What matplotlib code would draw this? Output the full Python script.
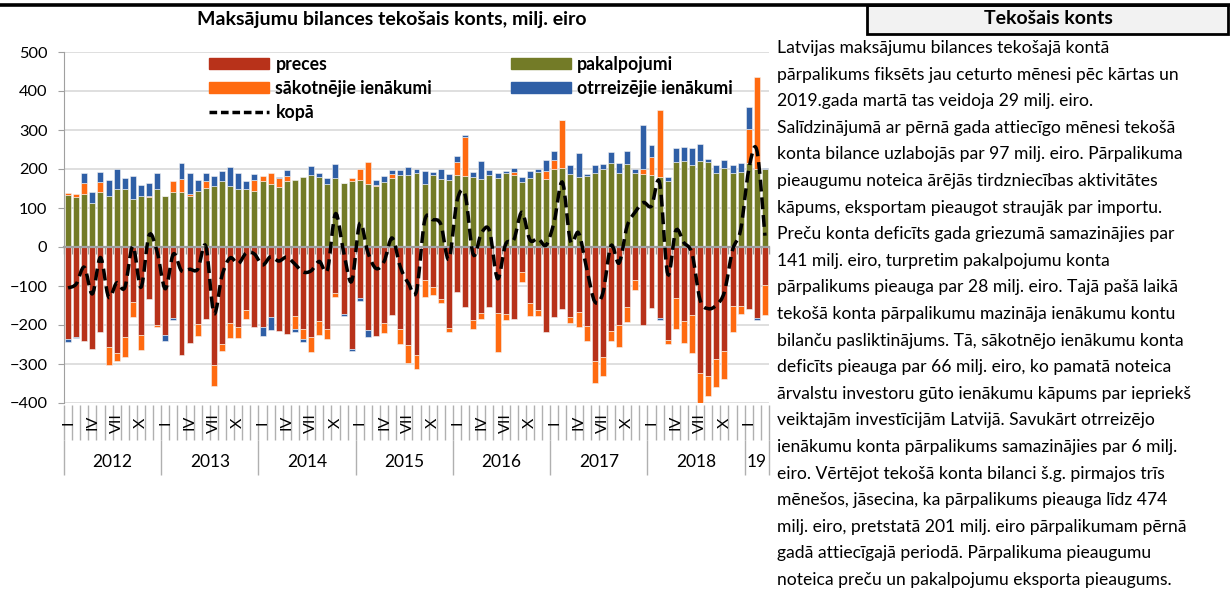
import matplotlib
matplotlib.use("Agg")
import numpy as np
import matplotlib.pyplot as plt
from matplotlib.lines import Line2D
from matplotlib.patches import Patch, Rectangle, PathPatch
from matplotlib.path import Path

plt.rcParams['font.family'] = ['Lato', 'DejaVu Sans']

# ── Data (milj. eiro), monthly Jan 2012 – Mar 2019 ───────────────────────────

YEARS = ['2012', '2013', '2014', '2015', '2016', '2017', '2018', '19']
MONTHS_PER_YEAR = [12, 12, 12, 12, 12, 12, 12, 3]
MONTH_LABELS = ['I', '', '', 'IV', '', '', 'VII', '', '', 'X', '', '']

preces = [-237, -231, -240, -262, -218, -257, -273, -230, -142, -226, -133, -201,
          -226, -182, -277, -247, -197, -185, -303, -249, -195, -205, -162, -204,
          -204, -180, -215, -224, -177, -209, -232, -191, -209, -119, -173, -262,
          -130, -213, -227, -195, -174, -210, -250, -277, -85, -102, -133, -207,
          -116, -153, -187, -170, -155, -168, -173, -185, -63, -143, -162, -217,
          -180, -160, -180, -166, -203, -292, -281, -215, -200, -155, -85, -200,
          -157, -181, -238, -130, -189, -174, -322, -332, -286, -266, -151, -151,
          -160, -183, -97]

pakalpojumi = [133, 127, 136, 114, 141, 132, 148, 150, 124, 132, 127, 148,
               132, 142, 142, 132, 144, 152, 156, 168, 157, 150, 150, 144,
               168, 162, 155, 168, 173, 179, 184, 180, 162, 176, 164, 168,
               173, 162, 156, 167, 176, 185, 184, 189, 162, 184, 174, 172,
               185, 183, 179, 174, 185, 178, 189, 185, 166, 178, 193, 174,
               199, 202, 187, 180, 183, 189, 199, 215, 191, 213, 191, 186,
               185, 179, 169, 219, 221, 210, 221, 217, 191, 203, 191, 192,
               215, 200, 199]

sakotnejie = [5, 9, 27, 0, 25, -46, -19, -51, -38, -38, 3, -3,
              0, 26, 32, 4, -31, 16, -53, -18, -39, -29, -23, 27,
              13, 27, 21, 15, -32, -26, -37, -35, -27, -9, 0, 10,
              26, 56, 3, -25, 12, -38, -47, -37, -43, -21, -10, -11,
              34, 100, -24, -15, 0, -102, -15, 7, -27, -34, -15, 20,
              24, 124, -15, -38, -38, -57, -51, -26, -56, -37, -26, 13,
              47, 173, -11, -81, -56, -97, -79, -51, -72, -73, -68, -21,
              87, 235, -77]

otrreizejie = [-7, -2, 26, 28, 26, 41, 52, 27, 58, 27, 34, 43,
               -15, -4, 42, 54, 27, 21, 27, 26, 49, 40, 20, 15,
               -23, -34, 3, 15, -8, -8, 24, 9, 15, 37, -3, -4,
               -9, -19, 13, 16, 9, 12, 20, 12, 33, 9, 27, 15,
               15, 4, 13, 46, 12, 11, 6, 11, 13, 17, 6, 28,
               23, 0, 23, 60, 3, 20, 15, 29, 24, 33, 10, 115,
               30, -6, 11, 34, 35, 44, 44, 8, 18, 21, 20, 24,
               56, -4, 4]

kopa = [-105, -95, -52, -120, -27, -128, -92, -104, 2, -103, 30, -13,
        -107, -18, -61, -57, -57, 2, -170, -73, -28, -43, -15, -18,
        -46, -25, -36, -26, -44, -64, -61, -37, -59, 85, -12, -88,
        60, -14, -55, -37, 23, -51, -93, -113, 67, 70, 58, -31,
        118, 134, -19, 35, 42, -81, 7, 18, 89, 18, 22, 5,
        66, 166, 15, 36, -55, -140, -118, 3, -41, 54, 90, 114,
        105, 165, -69, 42, 11, -17, -136, -158, -149, -115, -8, 44,
        198, 248, 29]

SERIES = [
    ('preces', preces, '#B8321A'),
    ('pakalpojumi', pakalpojumi, '#737B27'),
    ('sākotnējie ienākumi', sakotnejie, '#FF6A10'),
    ('otrreizējie ienākumi', otrreizejie, '#2F5FA6'),
]

TITLE = "Maksājumu bilances tekošais konts, milj. eiro"
BOX_TITLE = "Tekošais konts"
BODY = [
    "Latvijas maksājumu bilances tekošajā kontā",
    "pārpalikums fiksēts jau ceturto mēnesi pēc kārtas un",
    "2019.gada martā tas veidoja 29 milj. eiro.",
    "Salīdzinājumā ar pērnā gada attiecīgo mēnesi tekošā",
    "konta bilance uzlabojās par 97 milj. eiro. Pārpalikuma",
    "pieaugumu noteica ārējās tirdzniecības aktivitātes",
    "kāpums, eksportam pieaugot straujāk par importu.",
    "Preču konta deficīts gada griezumā samazinājies par",
    "141 milj. eiro, turpretim pakalpojumu konta",
    "pārpalikums pieauga par 28 milj. eiro. Tajā pašā laikā",
    "tekošā konta pārpalikumu mazināja ienākumu kontu",
    "bilanču pasliktinājums. Tā, sākotnējo ienākumu konta",
    "deficīts pieauga par 66 milj. eiro, ko pamatā noteica",
    "ārvalstu investoru gūto ienākumu kāpums par iepriekš",
    "veiktajām investīcijām Latvijā. Savukārt otrreizējo",
    "ienākumu konta pārpalikums samazinājies par 6 milj.",
    "eiro. Vērtējot tekošā konta bilanci š.g. pirmajos trīs",
    "mēnešos, jāsecina, ka pārpalikums pieauga līdz 474",
    "milj. eiro, pretstatā 201 milj. eiro pārpalikumam pērnā",
    "gadā attiecīgajā periodā. Pārpalikuma pieaugumu",
    "noteica preču un pakalpojumu eksporta pieaugums.",
]

W, H = 1230, 590
GRID = '#D9D9D9'
AXIS = '#A0A0A0'


def smooth_path(xs, ys):
    """Excel-like smoothed line: cubic Bezier through every data point."""
    p = np.column_stack([xs, ys]).astype(float)
    verts = [p[0]]
    codes = [Path.MOVETO]
    for i in range(len(p) - 1):
        p0 = p[i - 1] if i > 0 else p[i]
        p3 = p[i + 2] if i + 2 < len(p) else p[i + 1]
        c1 = p[i] + (p[i + 1] - p0) / 6
        c2 = p[i + 1] - (p3 - p[i]) / 6
        verts += [c1, c2, p[i + 1]]
        codes += [Path.CURVE4] * 3
    return Path(verts, codes)


# ── Figure / axes ─────────────────────────────────────────────────────────────

fig = plt.figure(figsize=(W / 100, H / 100), dpi=100)
ax = fig.add_axes([64 / W, 1 - 403 / H, 705 / W, 351 / H])

n = len(preces)
x = np.arange(n)

# stacked bars: positives upward from 0, negatives downward from 0 (Excel style)
pos_base = np.zeros(n)
neg_base = np.zeros(n)
for name, vals, color in SERIES:
    v = np.array(vals, dtype=float)
    base = np.where(v >= 0, pos_base, neg_base)
    ax.bar(x, v, bottom=base, width=0.74, color=color,
           edgecolor='#F4F4F4', linewidth=0.4, zorder=3)
    pos_base += np.where(v >= 0, v, 0)
    neg_base += np.where(v < 0, v, 0)

ax.add_patch(PathPatch(smooth_path(x, kopa), fill=False, edgecolor='black', lw=2.5,
                       ls=(0, (3.4, 1.7)), zorder=5, capstyle='butt'))

ax.set_xlim(-0.5, n - 0.5)
ax.set_ylim(-400, 500)
ax.set_yticks(range(-400, 501, 100))
ax.yaxis.grid(True, color=GRID, lw=1.2, zorder=0)
ax.set_axisbelow(True)
ax.tick_params(axis='y', labelsize=11.8, length=4, color=AXIS, pad=8)

for s in ['top', 'right']:
    ax.spines[s].set_visible(False)
ax.spines['left'].set_color(AXIS)
ax.spines['bottom'].set_position(('data', 0))
ax.spines['bottom'].set_color(AXIS)
ax.spines['bottom'].set_linewidth(1.6)
ax.spines['bottom'].set_zorder(4)
ax.set_xticks(np.arange(n + 1) - 0.5)
ax.tick_params(axis='x', length=5, color=AXIS, labelbottom=False, width=1)

# multi-level category labels below the plot
trans = ax.get_xaxis_transform()
bounds = np.arange(n + 1) - 0.5
ax.vlines(bounds, -0.006, -0.105, transform=trans, colors='#B0B0B0', lw=1, clip_on=False)
year_edges = np.concatenate([[0], np.cumsum(MONTHS_PER_YEAR)]) - 0.5
ax.vlines(year_edges, -0.105, -0.205, transform=trans, colors='#B0B0B0', lw=1, clip_on=False)
for i in range(n):
    lab = MONTH_LABELS[i % 12]
    if lab:
        ax.text(i, -0.056, lab, transform=trans, rotation=90, ha='center', va='center',
                fontsize=11.5)
for yr, a, b in zip(YEARS, year_edges[:-1], year_edges[1:]):
    ax.text((a + b) / 2, -0.168, yr, transform=trans, ha='center', va='center',
            fontsize=12.5)

# legend
handles = [Patch(color=SERIES[0][2], label=SERIES[0][0]),
           Patch(color=SERIES[2][2], label=SERIES[2][0]),
           Line2D([], [], color='black', lw=2.5, ls=(0, (2.2, 1.1)), label='kopā'),
           Patch(color=SERIES[1][2], label=SERIES[1][0]),
           Patch(color=SERIES[3][2], label=SERIES[3][0])]
ax.legend(handles=handles, ncol=2, loc='upper left', bbox_to_anchor=(0.206, 0.99),
          frameon=False, prop={'weight': 'bold', 'size': 12.7},
          handlelength=3.4, handleheight=0.62, handletextpad=0.35,
          columnspacing=4.45, labelspacing=0.42, borderpad=0, borderaxespad=0)

# ── Titles and right-hand text panel ─────────────────────────────────────────

fig.add_artist(Line2D([0, 1], [1 - 5 / H, 1 - 5 / H], transform=fig.transFigure,
                      color='black', lw=2.6))
fig.text(392 / W, 1 - 19 / H, TITLE, ha='center', va='center', fontsize=14,
         fontweight='bold')

fig.add_artist(Rectangle((867 / W, 1 - 34 / H), 361 / W, 29 / H, transform=fig.transFigure,
                         facecolor='#F2F2F2', edgecolor='black', lw=2))
fig.text(1048 / W, 1 - 19 / H, BOX_TITLE, ha='center', va='center', fontsize=14,
         fontweight='bold')

for k, line in enumerate(BODY):
    fig.text(777 / W, 1 - (48 + 26.6 * k) / H, line, ha='left', va='center', fontsize=12.6)

fig.savefig('out.png', dpi=100)
